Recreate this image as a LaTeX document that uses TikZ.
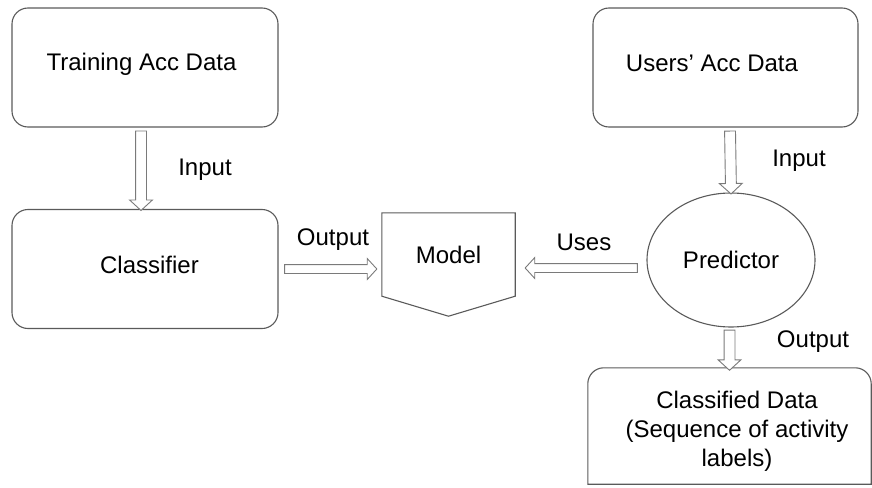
\documentclass[tikz,border=0pt]{standalone}
\usepackage{fontspec}
\setmainfont{Liberation Sans}
\usepackage{tikz}
\usetikzlibrary{calc,shapes.geometric,shapes.arrows}

\definecolor{boxline}{HTML}{5A5A5A}
\definecolor{arrowline}{HTML}{7A7A7A}

\tikzset{
	box/.style={draw=boxline, line width=1.1pt, rounded corners=16pt, minimum width=266pt, minimum height=119pt},
	fatarrow/.style={single arrow, draw=arrowline, line width=0.9pt, fill=white, inner xsep=0pt, inner ysep=5pt,
		single arrow head extend=6pt, single arrow tip angle=95},
	lbl/.style={font=\fontsize{24}{29}\selectfont}
}

% hollow block arrow from one point to another
\newcommand{\hollowarrow}[3][]{%
	\path let \p1=($(#3)-(#2)$), \n1={veclen(\x1,\y1)} in
		(#2) -- (#3) node[fatarrow, midway, sloped, allow upside down, minimum height=\n1, #1] {};
}

\begin{document}
\begin{tikzpicture}[x=1pt, y=-1pt, every node/.style={lbl}]
	\useasboundingbox (0,0) rectangle (872,487);
	\clip (0,0) rectangle (872,485);

	% left column
	\node[box, label={[lbl, xshift=-3.5pt, yshift=3pt]center:Training Acc Data}] (train) at (145,67.5) {};
	\node[box, label={[lbl, xshift=4.5pt, yshift=4pt]center:Classifier}] (clf) at (145,269) {};

	% model in the middle
	\node[minimum width=133pt, minimum height=83pt, inner sep=0pt] (model) at (448.5,254.5) {Model};
	\draw[boxline, line width=1.1pt] (model.north west) -- (model.north east) -- (model.south east)
		-- ($(model.south)+(0,20)$) -- (model.south west) -- cycle;

	% right column
	\node[box, minimum width=265pt, label={[lbl, xshift=-13.5pt, yshift=4pt]center:Users’ Acc Data}] (users) at (725.5,67.5) {};
	\node[ellipse, draw=boxline, line width=1.1pt, minimum width=168pt, minimum height=134pt, inner sep=0pt] (pred) at (731,260) {Predictor};
	\node[minimum width=283pt, minimum height=116pt, inner sep=0pt] (outbox) at (729.5,426) {};
	\draw[boxline, line width=1.1pt] (outbox.south west) [rounded corners=16pt] -- (outbox.north west)
		-- (outbox.north east) [sharp corners] -- (outbox.south east) -- cycle;
	\node[align=center] (outtxt) at (737,431) {Classified Data\\(Sequence of activity\\labels)};

	% connectors
	\coordinate (a1) at ([xshift=-4pt, yshift=-1pt]train.south);
	\coordinate (b1) at ([xshift=-4pt, yshift=1pt]clf.north);
	\hollowarrow{a1}{b1}
	\coordinate (a2) at ([xshift=4pt]clf.east);
	\coordinate (b2) at ([xshift=-7pt]model.west |- a2);
	\hollowarrow[inner ysep=4pt]{a2}{b2}
	\coordinate (a3) at ([xshift=-7pt, yshift=-8pt]pred.west);
	\coordinate (b3) at ([xshift=12pt]model.east |- a3);
	\hollowarrow[inner ysep=4pt]{a3}{b3}
	\coordinate (a4) at ([xshift=4.5pt, yshift=-1pt]users.south);
	\coordinate (b4) at ([yshift=1pt]pred.north);
	\hollowarrow{a4}{b4}
	\coordinate (a5) at ([xshift=-1.5pt]pred.south);
	\coordinate (b5) at (outbox.north -| a5);
	\hollowarrow{a5}{b5}

	% arrow labels
	\node (in1) at (205,170) {Input};
	\node (out1) at (333,240) {Output};
	\node (uses) at (584,242) {Uses};
	\node (in2) at (799,161) {Input};
	\node (out2) at (813,342) {Output};
\end{tikzpicture}
\end{document}
